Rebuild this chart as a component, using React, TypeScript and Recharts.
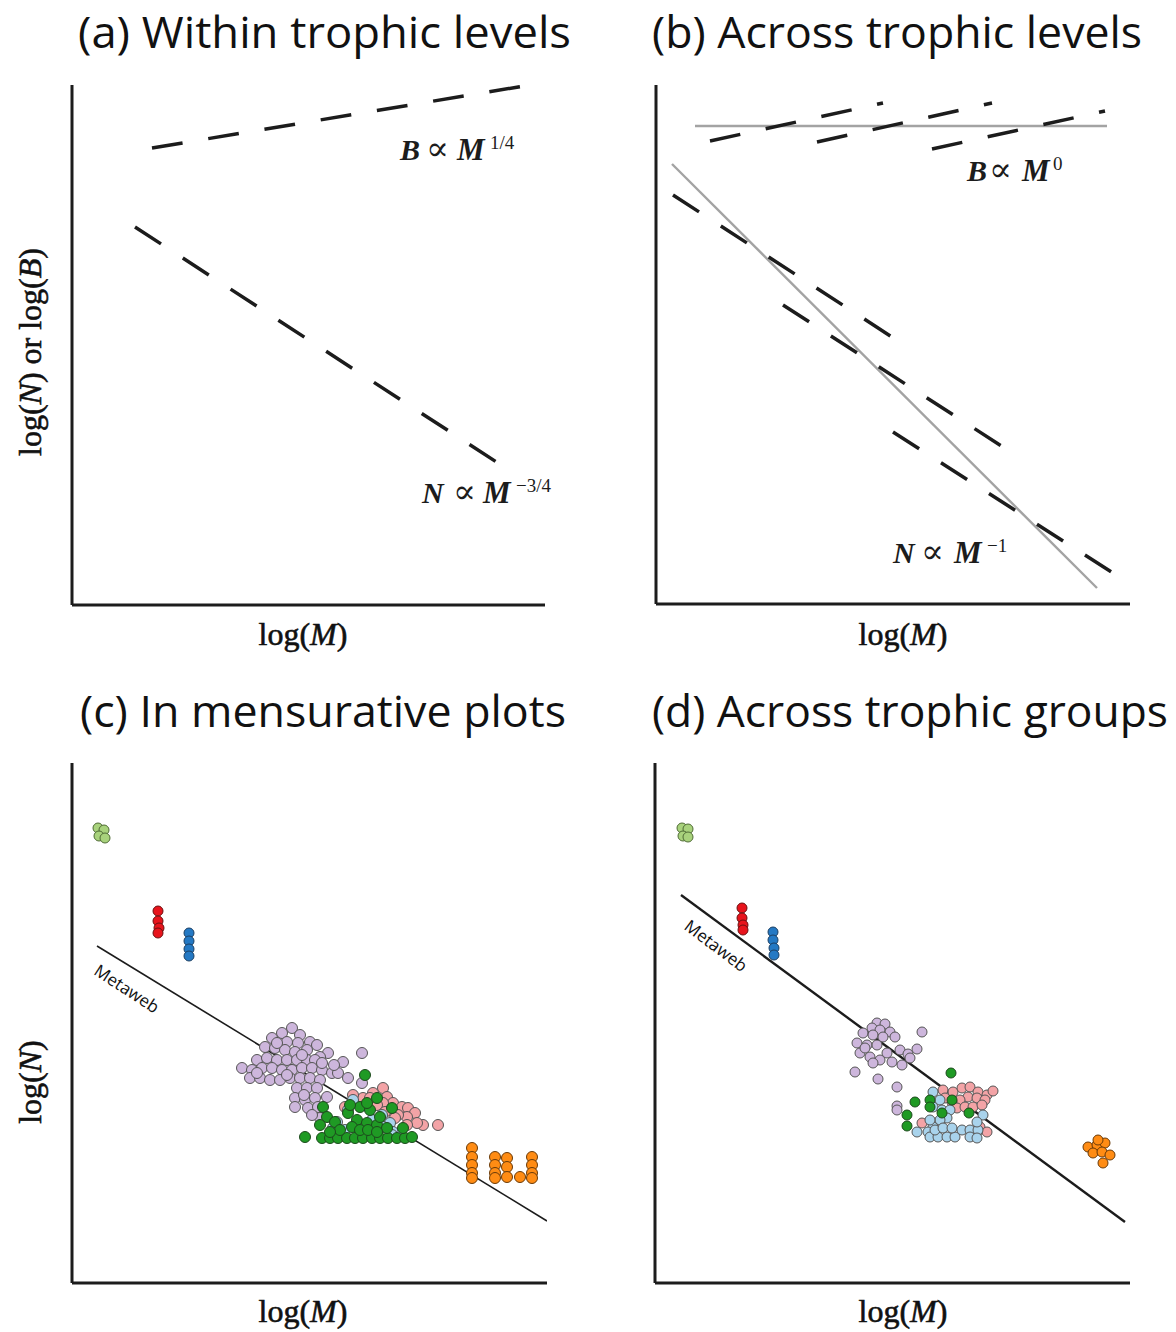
import React from 'react';
import { ComposedChart, Line, Scatter, XAxis, YAxis } from 'recharts';

type Pt = { x: number; y: number };
const pts = (rows: number[][]): Pt[] => rows.map(([x, y]) => ({ x, y }));

// values in plot units (origin at the axes corner)

// (a) within trophic levels
const aBiomass = pts([[80, 457], [452, 519]]);
const aAbundance = pts([[63, 378], [426, 142]]);

// (b) across trophic levels
const bBiomassFit = pts([[39, 478], [451, 478]]);
const bBiomassLevels = [
  pts([[54, 463], [227, 501]]),
  pts([[161, 462], [336, 501]]),
  pts([[276, 455], [449, 493]]),
];
const bAbundanceFit = pts([[16, 440], [441, 16]]);
const bAbundanceLevels = [
  pts([[17, 409], [236, 267]]),
  pts([[127, 299], [347, 157]]),
  pts([[237, 172], [457, 31]]),
];

// (c) mensurative plots
const cMetaweb = pts([[25, 337], [475, 62]]);
const cLightGreen = pts([[26, 455], [32, 453], [27, 447], [33, 445]]);
const cRed = pts([[86, 372], [86, 362], [87, 355], [86, 350]]);
const cBlue = pts([[117, 350], [117, 342], [117, 334], [117, 327]]);
const cPurple = pts([
  [220, 255], [210, 250], [228, 248], [200, 245], [215, 241], [226, 240], [238, 241], [245, 238],
  [193, 236], [203, 235], [213, 233], [223, 231], [235, 233], [256, 230], [248, 226], [185, 223],
  [195, 225], [205, 223], [215, 223], [225, 223], [235, 223], [243, 223], [271, 221], [290, 230],
  [170, 215], [180, 213], [190, 215], [200, 215], [210, 213], [220, 213], [230, 215], [240, 215],
  [250, 213], [260, 210], [266, 210], [178, 205], [188, 205], [198, 203], [208, 203], [218, 205],
  [228, 205], [238, 205], [248, 203], [276, 205], [290, 200], [225, 195], [235, 195], [245, 195],
  [255, 186], [223, 185], [233, 183], [243, 185], [223, 176], [236, 175], [246, 176], [248, 165],
  [240, 168], [205, 240], [230, 228], [250, 220], [215, 208], [185, 210], [262, 218], [232, 188],
]);
const cPink = pts([
  [311, 195], [301, 190], [291, 185], [281, 188], [273, 176], [315, 186], [321, 180], [330, 176],
  [336, 175], [343, 170], [351, 158], [366, 158], [345, 160], [335, 166], [326, 168], [318, 173],
  [311, 180], [305, 178], [298, 185], [313, 171], [323, 165], [335, 158],
]);
const cLightBlue = pts([
  [281, 183], [276, 173], [265, 161], [261, 155], [273, 153], [310, 168], [318, 160], [321, 151],
  [329, 148], [320, 148], [300, 163], [268, 147], [291, 150], [311, 156],
]);
const cGreen = pts([
  [250, 145], [258, 145], [266, 145], [275, 145], [283, 145], [291, 145], [300, 145], [308, 145],
  [316, 145], [325, 145], [333, 145], [340, 146], [233, 146], [293, 208], [251, 176], [255, 166],
  [263, 161], [276, 170], [285, 163], [295, 160], [305, 158], [315, 155], [280, 156], [288, 153],
  [296, 153], [305, 151], [268, 153], [258, 151], [288, 176], [298, 173], [320, 175], [308, 166],
  [331, 155], [278, 178], [295, 180], [305, 185], [248, 158],
]);
const cOrange = pts([
  [400, 135], [400, 126], [400, 118], [400, 110], [400, 105],
  [423, 126], [423, 118], [423, 110], [423, 105],
  [435, 125], [435, 116], [435, 106], [448, 106],
  [460, 126], [460, 118], [460, 110], [460, 105],
]);

// (d) across trophic groups
const dMetaweb = pts([[26, 388], [470, 61]]);
const dLightGreen = pts([[27, 455], [33, 454], [28, 447], [33, 446]]);
const dRed = pts([[87, 375], [87, 365], [88, 358], [88, 353]]);
const dBlue = pts([[118, 351], [118, 343], [119, 335], [119, 328]]);
const dPurple = pts([
  [222, 260], [230, 259], [217, 255], [225, 253], [235, 251], [208, 250], [218, 248], [228, 246],
  [240, 246], [267, 251], [202, 240], [212, 238], [222, 238], [245, 233], [253, 229], [262, 234],
  [205, 230], [215, 226], [225, 223], [237, 221], [247, 218], [255, 225], [218, 220], [200, 211],
  [223, 204], [242, 196], [242, 177], [242, 173], [210, 235], [232, 230],
]);
const dPink = pts([
  [288, 193], [298, 191], [307, 195], [315, 196], [323, 191], [332, 188], [338, 192], [313, 186],
  [322, 185], [330, 183], [305, 183], [297, 181], [302, 175], [310, 176], [318, 176], [327, 178],
  [290, 185], [267, 160], [325, 156], [332, 151], [322, 151],
]);
const dLightBlue = pts([
  [278, 191], [285, 183], [278, 176], [287, 173], [295, 173], [292, 165], [285, 163], [278, 156],
  [273, 151], [262, 151], [275, 146], [283, 146], [292, 146], [300, 146], [280, 153], [288, 155],
  [297, 155], [307, 153], [315, 153], [323, 153], [315, 146], [322, 145], [328, 168], [322, 161],
  [275, 163],
]);
const dGreen = pts([
  [296, 210], [260, 181], [275, 183], [275, 176], [252, 168], [252, 157], [297, 183], [314, 170],
  [287, 170],
]);
const dOrange = pts([
  [433, 136], [442, 138], [450, 140], [438, 130], [447, 131], [455, 128], [448, 120], [443, 143],
]);

const INK = '#1c1c1c';
const GREY = '#a3a3a3';
const DASH = '31 26';

const dot = (fill: string, r: number, stroke = '#555') => (p: any) => (
  <circle cx={p.cx} cy={p.cy} r={r} fill={fill} stroke={stroke} strokeWidth={1} />
);

const axisLine = { stroke: INK, strokeWidth: 3 };

// margin is given as the plot box; the axes take 2px of it
function Frame({ left, top, margin, w, h, children }: any) {
  const m = { ...margin, left: margin.left - 2, bottom: margin.bottom - 2 };
  return (
    <div style={{ position: 'absolute', left, top }}>
      <ComposedChart width={588} height={666} margin={m}>
        <XAxis type="number" dataKey="x" domain={[0, w]} allowDataOverflow
          tick={false} tickLine={false} axisLine={axisLine} height={2} />
        <YAxis type="number" dataKey="y" domain={[0, h]} allowDataOverflow
          tick={false} tickLine={false} axisLine={axisLine} width={2} />
        {children}
      </ComposedChart>
    </div>
  );
}

const dashed = (data: Pt[], key: string) => (
  <Line key={key} data={data} dataKey="y" stroke={INK} strokeWidth={3.5} strokeDasharray={DASH}
    dot={false} activeDot={false} isAnimationActive={false} />
);
const solid = (data: Pt[], key: string, color: string, width: number) => (
  <Line key={key} data={data} dataKey="y" stroke={color} strokeWidth={width}
    dot={false} activeDot={false} isAnimationActive={false} />
);
const group = (data: Pt[], key: string, fill: string, r: number, stroke?: string) => (
  <Scatter key={key} data={data} dataKey="y" shape={dot(fill, r, stroke)} isAnimationActive={false} />
);

const serif = '"Liberation Serif", "DejaVu Serif", serif';
const sans = '"Open Sans", "Noto Sans", sans-serif';

function Formula({ x, y, sym, pow, gaps }: any) {
  return (
    <text y={y} fontFamily={serif} fontSize={30} fontWeight="bold" fill={INK}>
      <tspan x={x} fontStyle="italic">{sym}</tspan>
      <tspan x={x + gaps[0]} fontSize={34} fontWeight="normal">∝</tspan>
      <tspan x={x + gaps[1]} fontStyle="italic" fontSize={31}>M</tspan>
      <tspan x={x + gaps[2]} dy={-11} fontSize={19} fontWeight="normal">{pow}</tspan>
    </text>
  );
}

function Overlay() {
  const title = (x: number, y: number, len: number, s: string) => (
    <text x={x} y={y} fontFamily={sans} fontSize={44} textLength={len}
      lengthAdjust="spacingAndGlyphs" fill="#111">{s}</text>
  );
  const logM = (cx: number, y: number) => (
    <text x={cx} y={y} textAnchor="middle" fontFamily={serif} fontSize={32}
      fill="#111" stroke="#111" strokeWidth={0.6}>log(<tspan fontStyle="italic">M</tspan>)</text>
  );
  return (
    <svg width={1176} height={1332} style={{ position: 'absolute', left: 0, top: 0, pointerEvents: 'none' }}>
      {title(78, 48, 493, '(a) Within trophic levels')}
      {title(652, 48, 490, '(b) Across trophic levels')}
      {title(80, 727, 486, '(c) In mensurative plots')}
      {title(652, 727, 516, '(d) Across trophic groups')}

      {logM(303, 645)}
      {logM(903, 645)}
      {logM(303, 1322)}
      {logM(903, 1322)}

      <text transform="translate(41,352) rotate(-90)" textAnchor="middle" fontFamily={serif}
        fontSize={32} fill="#111" stroke="#111" strokeWidth={0.6}>
        log(<tspan fontStyle="italic">N</tspan>) or log(<tspan fontStyle="italic">B</tspan>)
      </text>
      <text transform="translate(41,1082) rotate(-90)" textAnchor="middle" fontFamily={serif}
        fontSize={32} fill="#111" stroke="#111" strokeWidth={0.6}>
        log(<tspan fontStyle="italic">N</tspan>)
      </text>

      <Formula x={400} y={160} sym="B" pow="1/4" gaps={[26, 57, 90]} />
      <Formula x={422} y={503} sym="N" pow="−3/4" gaps={[31, 61, 94]} />
      <Formula x={967} y={181} sym="B" pow="0" gaps={[22, 55, 86]} />
      <Formula x={893} y={563} sym="N" pow="−1" gaps={[28, 61, 94]} />

      <text transform="translate(126,990) rotate(33)" textAnchor="middle" dominantBaseline="middle"
        fontFamily={sans} fontSize={17} fill="#111">Metaweb</text>
      <text transform="translate(715,947) rotate(37)" textAnchor="middle" dominantBaseline="middle"
        fontFamily={sans} fontSize={17} fill="#111">Metaweb</text>
    </svg>
  );
}

export default function App() {
  return (
    <div style={{ position: 'absolute', left: 0, top: 0, width: 1176, height: 1332, background: '#fff' }}>
      <Frame left={0} top={0} margin={{ top: 85, left: 72, right: 43, bottom: 61 }} w={473} h={520}>
        {dashed(aBiomass, 'ab')}
        {dashed(aAbundance, 'an')}
      </Frame>

      <Frame left={588} top={0} margin={{ top: 85, left: 68, right: 46, bottom: 62 }} w={474} h={519}>
        {solid(bBiomassFit, 'bbf', GREY, 2.6)}
        {solid(bAbundanceFit, 'bnf', GREY, 2.4)}
        {bBiomassLevels.map((d, i) => dashed(d, `bb${i}`))}
        {bAbundanceLevels.map((d, i) => dashed(d, `bn${i}`))}
      </Frame>

      <Frame left={0} top={666} margin={{ top: 97, left: 72, right: 41, bottom: 49 }} w={475} h={520}>
        {solid(cMetaweb, 'cm', INK, 1.6)}
        {group(cLightGreen, 'clg', '#a8d27c', 5, '#4f6b35')}
        {group(cRed, 'cr', '#e8141c', 5, '#6a1010')}
        {group(cBlue, 'cb', '#2479c4', 5, '#1b3f63')}
        {group(cPurple, 'cp', '#cdb6dc', 5.5)}
        {group(cPink, 'cpk', '#f3a3a6', 5.5)}
        {group(cLightBlue, 'clb', '#a9d3ec', 5.5)}
        {group(cGreen, 'cg', '#1f9a24', 5.5, '#1d4a1d')}
        {group(cOrange, 'co', '#ff8c14', 5.5, '#6a3a08')}
      </Frame>

      <Frame left={588} top={666} margin={{ top: 97, left: 67, right: 46, bottom: 49 }} w={475} h={520}>
        {solid(dMetaweb, 'dm', INK, 2.4)}
        {group(dLightGreen, 'dlg', '#a8d27c', 5, '#4f6b35')}
        {group(dRed, 'dr', '#e8141c', 5, '#6a1010')}
        {group(dBlue, 'db', '#2479c4', 5, '#1b3f63')}
        {group(dPurple, 'dp', '#cdb6dc', 5)}
        {group(dPink, 'dpk', '#f3a3a6', 5)}
        {group(dLightBlue, 'dlb', '#a9d3ec', 5)}
        {group(dGreen, 'dg', '#1f9a24', 5, '#1d4a1d')}
        {group(dOrange, 'do', '#ff8c14', 5, '#6a3a08')}
      </Frame>

      <Overlay />
    </div>
  );
}
